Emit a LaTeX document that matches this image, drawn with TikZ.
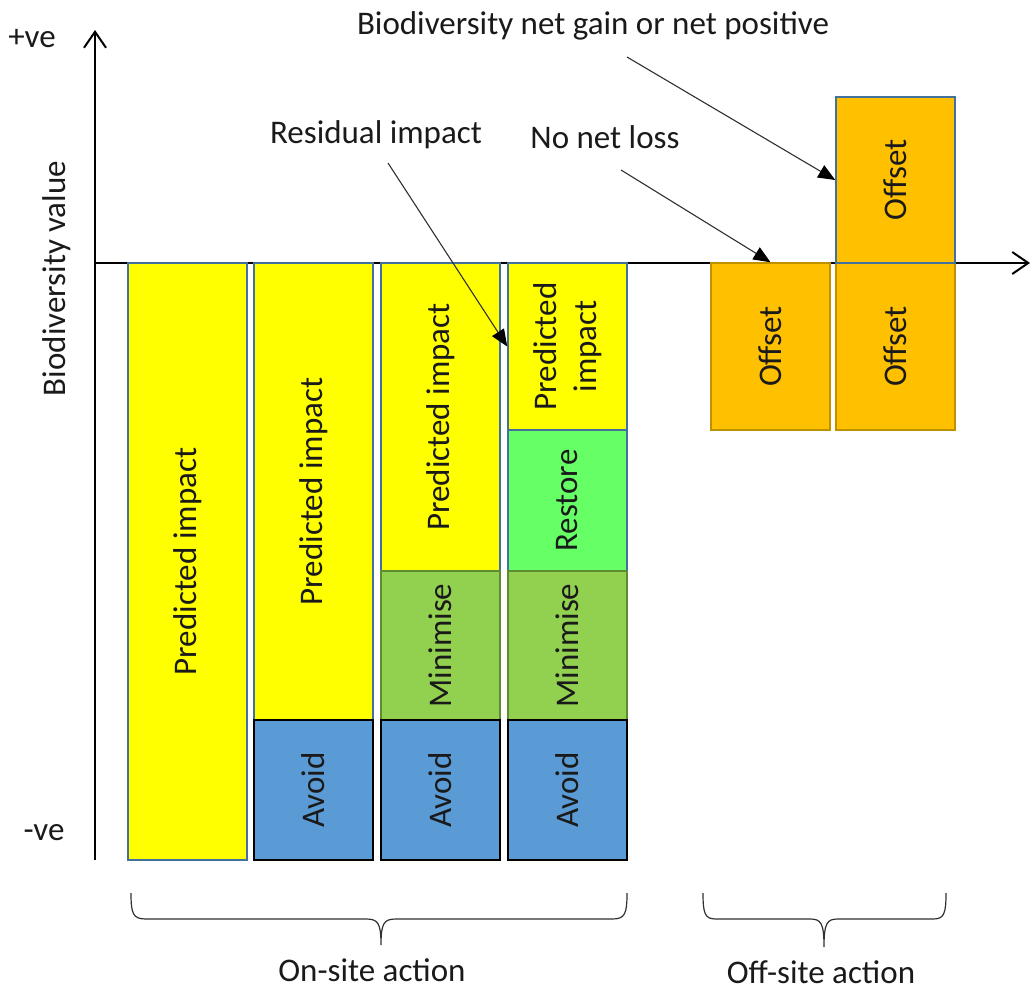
\documentclass[tikz,border=0pt]{standalone}
\usepackage{fontspec}
\setmainfont{Carlito}
\usetikzlibrary{arrows.meta}
\definecolor{yel}{HTML}{FFFF00}
\definecolor{yelb}{HTML}{41719C}
\definecolor{rest}{HTML}{66FF66}
\definecolor{minf}{HTML}{92D050}
\definecolor{minb}{HTML}{5E8C31}
\definecolor{avf}{HTML}{5B9BD5}
\definecolor{off}{HTML}{FFC000}
\definecolor{offb}{HTML}{BF9000}
\definecolor{txt}{HTML}{1A1A1A}
\definecolor{ptrc}{HTML}{303030}
\begin{document}
\begin{tikzpicture}[x=1pt,y=-1pt,
  every node/.style={text=txt, font=\fontsize{33}{40}\selectfont},
  bar/.style={draw, line width=1.5pt, inner sep=0pt, rotate=90, align=center},
  sz/.style 2 args={minimum height=#1, minimum width=#2},
  pred/.style={bar, fill=yel, draw=yelb},
  restb/.style={bar, fill=rest, draw=yelb},
  minim/.style={bar, fill=minf, draw=minb},
  avoidb/.style={bar, fill=avf, draw=black},
  offs/.style={bar, fill=off, draw=offb},
  axis/.style={line width=2pt, black, -{Straight Barb[length=16pt,width=22pt,line width=2pt]}},
  ptr/.style={line width=1.1pt, ptrc, -{Triangle[length=17pt,width=14pt,color=black]}},
  brace/.style={line width=1.2pt, ptrc},
  lbl/.style={anchor=base}]
\useasboundingbox (0,0) rectangle (1033,990);

% axes
\coordinate (o) at (95,263);
\coordinate (ybot) at (95,860);
\coordinate (ytop) at (95,30);
\coordinate (xend) at (1030,263);
\draw[axis] (ybot) -- (ytop);
\draw[axis] (o) -- (xend);

% bar 1
\node[pred, sz={119pt}{597pt}] (p1) at (187.5,561.5) {Predicted impact};
% bar 2
\node[pred, sz={119pt}{457pt}] (p2) at (313.5,491.5) {Predicted impact};
\node[avoidb, sz={119pt}{140pt}] (a2) at (313.5,790) {Avoid};
% bar 3
\node[pred, sz={119pt}{308pt}] (p3) at (440.5,417) {Predicted impact};
\node[minim, sz={119pt}{149pt}] (m3) at (440.5,645.5) {Minimise};
\node[avoidb, sz={119pt}{140pt}] (a3) at (440.5,790) {Avoid};
% bar 4
\node[pred, sz={119pt}{167pt}] (p4) at (567.5,346.5) {Predicted\\impact};
\node[restb, sz={119pt}{141pt}] (r4) at (567.5,500.5) {Restore};
\node[minim, sz={119pt}{149pt}] (m4) at (567.5,645.5) {Minimise};
\node[avoidb, sz={119pt}{140pt}] (a4) at (567.5,790) {Avoid};
% offsets
\node[offs, sz={119pt}{167pt}] (o1) at (770.5,346.5) {Offset};
\node[offs, sz={119pt}{167pt}] (o2) at (895.5,346.5) {Offset};
\node[offs, draw=yelb, sz={119pt}{166pt}] (o3) at (895.5,180) {Offset};

% axis labels
\node[lbl] (pve) at (32,48) {+ve};
\node[lbl] (nve) at (44,840) {-ve};
\node[lbl, rotate=90] (bv) at (65,278.5) {Biodiversity value};

% annotations
\node[lbl] (ri) at (376,143) {Residual impact};
\node[lbl] (nnl) at (605,148) {No net loss};
\node[lbl] (bng) at (593,35) {Biodiversity net gain or net positive};
\coordinate (riS) at (388,163);
\coordinate (nnlS) at (621,170);
\coordinate (bngS) at (627,57);
\draw[ptr] (riS) -- (p4.north);
\draw[ptr] (nnlS) -- (o1.east);
\draw[ptr] (bngS) -- (o3.north);

% braces
\draw[brace] (131,893) .. controls (131,914) and (133,919) .. (146,919) -- (366,919)
  .. controls (378,919) and (381,923) .. (381,945)
  .. controls (381,923) and (384,919) .. (396,919) -- (612,919)
  .. controls (625,919) and (627,914) .. (627,893);
\draw[brace] (703,893) .. controls (703,914) and (705,919) .. (716,919) -- (810,919)
  .. controls (821,919) and (824,923) .. (824,947)
  .. controls (824,923) and (827,919) .. (838,919) -- (933,919)
  .. controls (944,919) and (946,914) .. (946,893);

\node[lbl] (on) at (372,981) {On-site action};
\node[lbl] (offl) at (821,983) {Off-site action};
\end{tikzpicture}
\end{document}
